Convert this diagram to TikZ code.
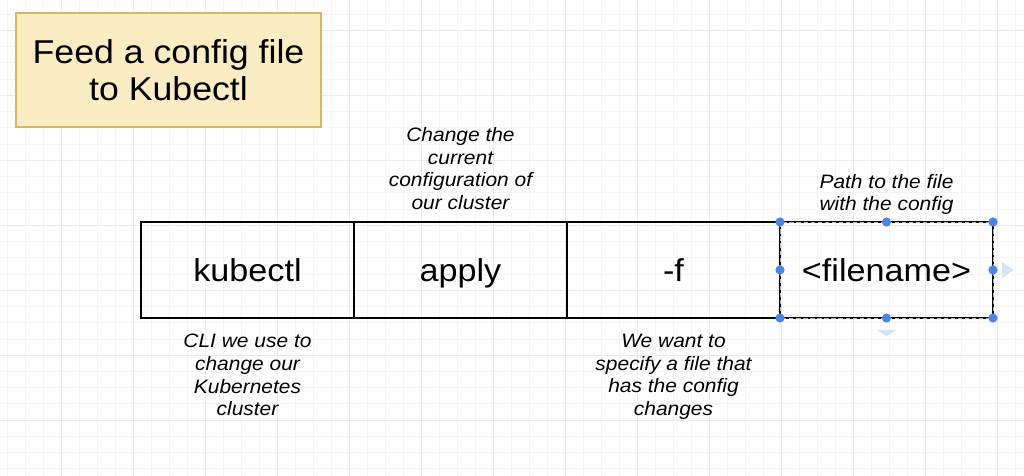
\documentclass[tikz,border=0pt]{standalone}
\usepackage{fontspec}
\setmainfont{Liberation Sans}[FakeStretch=1.08]
\usetikzlibrary{positioning}

\definecolor{titlebg}{HTML}{FAEDC3}
\definecolor{titleline}{HTML}{D6B767}
\definecolor{handle}{HTML}{4A86E8}
\definecolor{ghost}{HTML}{D6E4FA}

\tikzset{
  cmd/.style={draw, line width=1.4pt, minimum width=5.325cm, minimum height=2.4cm,
    outer sep=0pt, inner sep=0pt, text height=17pt, text depth=0pt,
    font=\fontsize{22.5}{26}\selectfont},
  note/.style={align=center, inner sep=0pt, font=\fontsize{13.8}{16.1}\selectfont\itshape},
  hdl/.style={circle, fill=handle, inner sep=0pt, minimum size=0.23cm},
}

\begin{document}
\begin{tikzpicture}
\useasboundingbox (0,0) rectangle (25.6,11.9);
\fill[white] (0,0) rectangle (25.6,11.9);
% faint canvas grid
\begin{scope}[shift={(1.525,1.4)}]
\draw[black!4, line width=0.4pt, xstep=0.45, ystep=0.406] (-1.525,-1.4) grid (24.075,10.5);
\draw[black!8, line width=0.5pt, xstep=1.8, ystep=1.625] (-1.525,-1.4) grid (24.075,10.5);
\end{scope}

\node[draw=titleline, fill=titlebg, line width=1.2pt, minimum width=7.625cm, minimum height=2.85cm,
  align=center, font=\fontsize{23.5}{26.5}\selectfont] (title) at (4.2125,10.15) {Feed a config file\\to Kubectl};

% the command
\node[cmd] (kubectl) at (6.1875,5.15) {kubectl};
\node[cmd, right=0pt of kubectl] (apply) {apply};
\node[cmd, right=0pt of apply] (flag) {-f};
\node[cmd, right=0pt of flag] (file) {<filename>};

% notes
\node[note, above=0.3cm of apply] (applynote) {Change the\\current\\configuration of\\our cluster};
\node[note, above=0.17cm of file] (filenote) {Path to the file\\with the config};
\node[note, below=0.4cm of kubectl] (kubectlnote) {CLI we use to\\change our\\Kubernetes\\cluster};
\node[note, below=0.4cm of flag] (flagnote) {We want to\\specify a file that\\has the config\\changes};

% selection of the last box
\draw[densely dashed, gray!60, line width=0.4pt] (file.south west) rectangle (file.north east);
\foreach \a in {north west,north,north east,east,south east,south,south west,west}
  \node[hdl] (h-\a) at (file.\a) {};
\fill[ghost] ([xshift=0.225cm,yshift=0.2cm]file.east) -- ++(0.3,-0.2) -- ++(-0.3,-0.2) -- cycle;
\fill[ghost] ([xshift=-0.24cm,yshift=-0.3cm]file.south) -- ++(0.48,0) -- ++(-0.24,-0.16) -- cycle;
\end{tikzpicture}
\end{document}
